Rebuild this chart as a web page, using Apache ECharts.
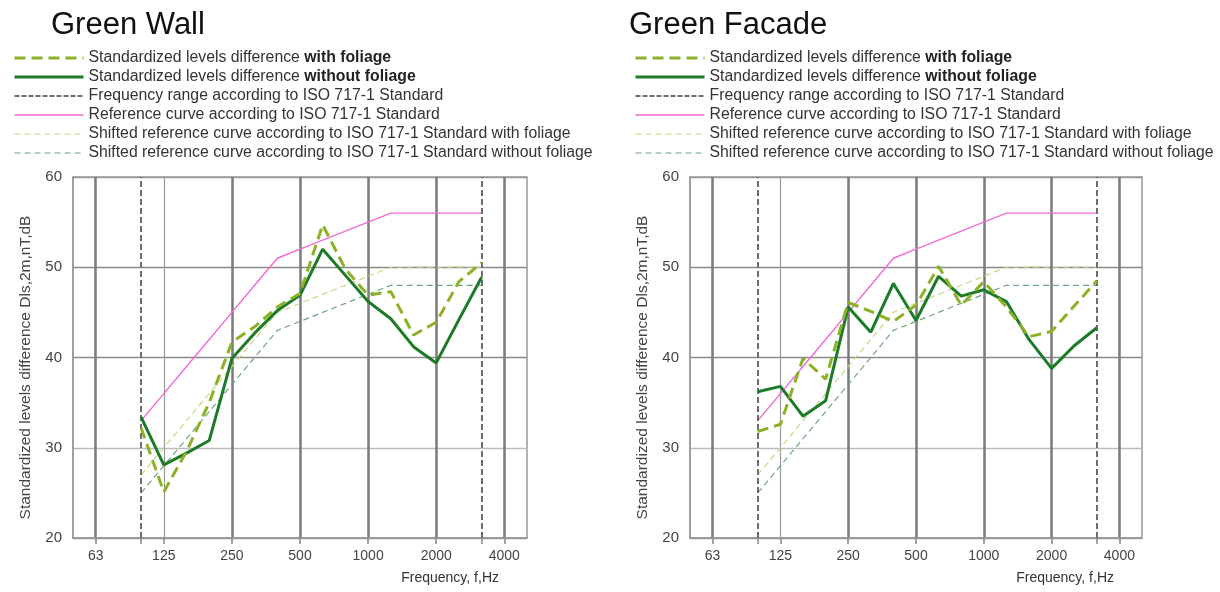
<!DOCTYPE html>
<html>
<head>
<meta charset="utf-8">
<script src="https://cdn.jsdelivr.net/npm/echarts@6/dist/echarts.min.js"></script>
<style>
  html, body { margin: 0; padding: 0; background: #fff; }
  #main { width: 1220px; height: 592px; }
</style>
</head>
<body>
<div id="main"></div>
<script>
// third-octave bands shown on the axis (50 Hz .. 5000 Hz)
const bands = ['50','63','80','100','125','160','200','250','315','400','500','630','800','1000','1250','1600','2000','2500','3150','4000','5000'];
// bands with measured values (ISO 717-1 range)
const measuredBands = ['100','125','160','200','250','315','400','500','630','800','1000','1250','1600','2000','2500','3150'];
const labelBands = ['63','125','250','500','1000','2000','4000'];
const tickBands = ['63','100','125','250','500','1000','2000','3150','4000'];
const thickGridBands = ['63','250','500','1000','2000','4000'];
const thinGridBands = ['125'];
const isoRange = ['100','3150'];

// Green Wall
const wallWith    = [32.2, 25.1, 29.6, 35.0, 41.7, 43.4, 45.6, 47.1, 54.7, 49.8, 46.9, 47.3, 42.5, 43.9, 48.4, 50.5];
const wallWithout = [33.4, 28.1, 29.4, 30.8, 39.9, 42.7, 45.2, 46.9, 52.0, 49.1, 46.2, 44.3, 41.2, 39.4, 44.2, 48.9];
// Green Facade
const facadeWith    = [31.8, 32.6, 39.9, 37.6, 46.1, 45.1, 44.0, 45.8, 50.1, 45.8, 48.4, 45.6, 42.3, 42.9, 45.7, 48.5];
const facadeWithout = [36.2, 36.8, 33.5, 35.2, 45.6, 42.8, 48.2, 44.1, 49.0, 46.8, 47.5, 46.2, 42.0, 38.8, 41.3, 43.3];
// ISO 717-1 reference curve and shifted curves
const refCurve       = [33, 36, 39, 42, 45, 48, 51, 52, 53, 54, 55, 56, 56, 56, 56, 56];
const shiftedWith    = [27, 30, 33, 36, 39, 42, 45, 46, 47, 48, 49, 50, 50, 50, 50, 50];
const shiftedWithout = [25, 28, 31, 34, 37, 40, 43, 44, 45, 46, 47, 48, 48, 48, 48, 48];

const N_WITH = 'Standardized levels difference with foliage';
const N_WITHOUT = 'Standardized levels difference without foliage';
const N_RANGE = 'Frequency range according to ISO 717-1 Standard';
const N_REF = 'Reference curve according to ISO 717-1 Standard';
const N_SH_WITH = 'Shifted reference curve according to ISO 717-1 Standard with foliage';
const N_SH_WITHOUT = 'Shifted reference curve according to ISO 717-1 Standard without foliage';
const legendNames = [N_WITH, N_WITHOUT, N_RANGE, N_REF, N_SH_WITH, N_SH_WITHOUT];

const FONT = '"Liberation Sans", Arial, sans-serif';
const pairs = arr => measuredBands.map((b, i) => [b, arr[i]]);
const pick = list => (idx, val) => list.indexOf(bands[idx]) >= 0;

function makeSeries(g, withArr, withoutArr) {
    const base = { type: 'line', xAxisIndex: g * 2, yAxisIndex: g, symbol: 'none', silent: true, animation: false };
    return [
        Object.assign({}, base, { name: N_SH_WITHOUT, data: pairs(shiftedWithout), lineStyle: { color: '#6ea482', width: 1.2, type: [6, 4] }, itemStyle: { color: '#6ea482' }, z: 2 }),
        Object.assign({}, base, { name: N_SH_WITH, data: pairs(shiftedWith), lineStyle: { color: '#c8d880', width: 1.2, type: [6, 4] }, itemStyle: { color: '#c8d880' }, z: 2 }),
        Object.assign({}, base, { name: N_REF, data: pairs(refCurve), lineStyle: { color: '#ef6ad6', width: 1.4 }, itemStyle: { color: '#ef6ad6' }, z: 3 }),
        Object.assign({}, base, {
            name: N_RANGE, data: [], lineStyle: { color: '#6e6e6e', width: 2.2, type: [5, 2] }, itemStyle: { color: '#6e6e6e' },
            markLine: { symbol: 'none', silent: true, label: { show: false },
                lineStyle: { color: '#6e6e6e', width: 2, type: [6, 3] },
                data: isoRange.map(b => ({ xAxis: b })) }
        }),
        Object.assign({}, base, { name: N_WITHOUT, data: pairs(withoutArr), lineStyle: { color: '#1d7b28', width: 3 }, itemStyle: { color: '#1d7b28' }, z: 5 }),
        Object.assign({}, base, { name: N_WITH, data: pairs(withArr), lineStyle: { color: '#8cb026', width: 3, type: [11, 6] }, itemStyle: { color: '#8cb026' }, z: 6 })
    ];
}

function makeXAxes(g) {
    return [
        {
            type: 'category', gridIndex: g, data: bands, boundaryGap: false,
            axisLine: { lineStyle: { color: '#999', width: 1.5 } },
            axisTick: { show: true, interval: pick(tickBands), length: 6, lineStyle: { color: '#888', width: 1.5 } },
            axisLabel: { interval: pick(labelBands), color: '#444', fontSize: 14, fontFamily: FONT, margin: 11 },
            splitLine: { show: true, interval: pick(thickGridBands), lineStyle: { color: '#7a7a7a', width: 2.5 } },
            name: 'Frequency, f,Hz', nameLocation: 'end', nameGap: -28,
            nameTextStyle: { color: '#333', fontSize: 14, fontFamily: FONT, align: 'right', verticalAlign: 'top', padding: [33, 0, 0, 0] }
        },
        {
            type: 'category', gridIndex: g, data: bands, boundaryGap: false, position: 'bottom',
            axisLine: { show: false }, axisTick: { show: false }, axisLabel: { show: false },
            splitLine: { show: true, interval: pick(thinGridBands), lineStyle: { color: '#9a9a9a', width: 1.2 } }
        }
    ];
}

function makeYAxis(g) {
    return {
        type: 'value', gridIndex: g, min: 20, max: 60, interval: 10,
        axisLine: { show: true, lineStyle: { color: '#999', width: 1.5 } },
        axisTick: { show: false },
        axisLabel: { color: '#444', fontSize: 15, fontFamily: FONT, margin: 11 },
        splitLine: { lineStyle: { color: ['#999', '#bbb', '#8a8a8a', '#8a8a8a', '#999'], width: 1.3 } },
        name: 'Standardized levels difference Dls,2m,nT,dB', nameLocation: 'middle', nameGap: 39,
        nameTextStyle: { color: '#444', fontSize: 15.5, fontFamily: FONT, padding: [0, 20, 0, 0] }
    };
}

function makeLegend(left) {
    return {
        orient: 'vertical', left: left, top: 50, padding: 0, data: legendNames,
        itemWidth: 69, itemHeight: 14, itemGap: 3, selectedMode: false,
        itemStyle: { opacity: 0 },
        lineStyle: { width: 'inherit' },
        formatter: name => name.indexOf('Standardized') === 0 ? name.replace(/(with(out)? foliage)$/, '{b|$1}') : name,
        textStyle: { color: '#333', fontSize: 15.8, lineHeight: 14, fontFamily: FONT,
            rich: { b: { fontWeight: 'bold', fontSize: 15.8, lineHeight: 14, color: '#222', fontFamily: FONT } } }
    };
}

const chart = echarts.init(document.getElementById('main'), null, { renderer: 'canvas' });
chart.setOption({
    animation: false,
    backgroundColor: '#fff',
    title: [
        { text: 'Green Wall', left: 51, top: 10, padding: 0, textStyle: { fontSize: 31, fontWeight: 'normal', color: '#111', fontFamily: FONT } },
        { text: 'Green Facade', left: 629, top: 10, padding: 0, textStyle: { fontSize: 31, fontWeight: 'normal', color: '#111', fontFamily: FONT } }
    ],
    legend: [makeLegend(13), makeLegend(634)],
    grid: [
        { left: 73, top: 177, width: 454, height: 361, show: true, borderColor: '#999', borderWidth: 1.5 },
        { left: 690, top: 177, width: 452, height: 361, show: true, borderColor: '#999', borderWidth: 1.5 }
    ],
    xAxis: makeXAxes(0).concat(makeXAxes(1)),
    yAxis: [makeYAxis(0), makeYAxis(1)],
    series: makeSeries(0, wallWith, wallWithout).concat(makeSeries(1, facadeWith, facadeWithout))
});
</script>
</body>
</html>
